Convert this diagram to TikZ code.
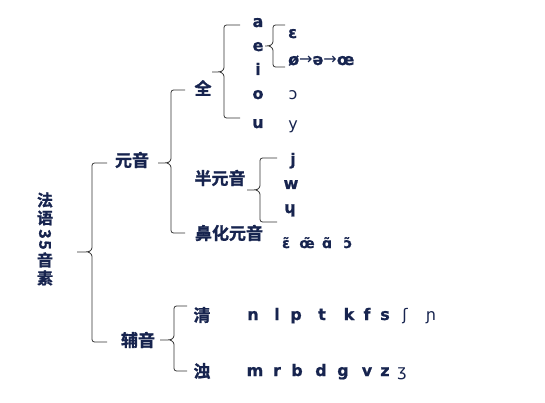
\documentclass[tikz,border=0pt]{standalone}
\usepackage{fontspec}
\usepackage{graphicx}
\newfontfamily\cjk{Noto Sans CJK SC}[BoldFont={* Bold}, BoldFeatures={FakeBold=1.2}]
\newfontfamily\lat{DejaVu Sans}[BoldFeatures={FakeBold=1}]
\definecolor{ink}{HTML}{17244F}
\definecolor{brk}{HTML}{333333}
\tikzset{
  zh/.style={font=\cjk\bfseries\fontsize{17}{18}\selectfont, text=ink, inner sep=0pt},
  tt/.style={font=\cjk\bfseries\fontsize{16}{17}\selectfont, text=ink, inner sep=0pt},
  lt/.style={font=\lat\bfseries\fontsize{16}{17}\selectfont, text=ink, inner sep=0pt, anchor=base},
  ltr/.style={font=\lat\fontsize{16}{17}\selectfont, text=ink, inner sep=0pt, anchor=base},
  nas/.style={font=\lat\bfseries\fontsize{14}{15}\selectfont, text=ink, inner sep=0pt, anchor=base},
  brace/.style={draw=brk, line width=0.8pt, rounded corners=2.5pt}
}
% \bracketdraw{x}{ytop}{ybot}{ynub}{xleft}{xright}
\newcommand\bracketdraw[6]{%
  \draw[brace] (#6,#2) -- (#1,#2) -- (#1,#4-2) -- (#1-4,#4) -- (#5,#4);
  \draw[brace] (#6,#3) -- (#1,#3) -- (#1,#4+2) -- (#1-4,#4);
}
\begin{document}
\begin{tikzpicture}[x=1pt,y=-1pt]
\useasboundingbox[fill=white] (0,0) rectangle (545,403);
% title (vertical)
\node[tt] (t1) at (45,200) {法};
\node[tt] (t2) at (45,218) {语};
\node[tt] (t3) at (45,234) {\rotatebox{-90}{3}};
\node[tt] (t4) at (45,245) {\rotatebox{-90}{5}};
\node[tt] (t5) at (45,260) {音};
\node[tt] (t6) at (45,278) {素};
% level 1
\node[zh] (yy) at (132,160) {元音};
\node[zh] (fy) at (138,340) {辅音};
% level 2
\node[zh] (quan) at (203,88) {全};
\node[zh] (ban) at (220,178) {半元音};
\node[zh] (bi) at (229,233) {鼻化元音};
\node[zh] (qing) at (202,315) {清};
\node[zh] (zhuo) at (202,371) {浊};
% vowels
\node[lt] (va) at (258,27) {a};
\node[lt] (ve) at (258,51) {e};
\node[lt] (vi) at (258,75) {i};
\node[lt] (vo) at (258,99) {o};
\node[lt] (vu) at (258,128) {u};
\node[lt, anchor=base west] (eps) at (288,38) {ɛ};
\node[lt, anchor=base west] (oe) at (288,65) {ø{\fontseries{m}\selectfont→}ə{\fontseries{m}\selectfont→}œ};
\node[ltr] (oo) at (293,100) {ɔ};
\node[ltr] (yv) at (293,130) {y};
% semi vowels
\node[lt] (j) at (293,165) {j};
\node[lt] (w) at (291,189) {w};
\node[lt] (h) at (290,213) {ɥ};
% nasal
\node[nas] (n1) at (286,248) {ɛ̃};
\node[nas] (n2) at (307,248) {œ̃};
\node[nas] (n3) at (327,248) {ɑ̃};
\node[nas] (n4) at (348,248) {ɔ̃};
% consonants
\foreach \c/\x/\s [count=\i] in {n/253/lt,l/277/lt,p/296/lt,t/322/lt,k/349/lt,f/367/lt,s/385/lt,ʃ/405/ltr,ɲ/431/ltr}
  \node[\s] (c\i) at (\x,320) {\c};
\foreach \c/\x/\s [count=\i] in {m/255/lt,r/277/lt,b/297/lt,d/321/lt,g/343/lt,v/367/lt,z/385/lt,ʒ/402/ltr}
  \node[\s] (d\i) at (\x,376) {\c};
% brackets
\bracketdraw{92}{163}{342}{252}{77}{107}
\bracketdraw{171}{90}{233}{163}{158}{185}
\bracketdraw{224}{25}{118}{72}{212}{240}
\bracketdraw{273}{25}{67}{46}{265}{285}
\bracketdraw{260}{158}{222}{190}{247}{277}
\bracketdraw{174}{306}{371}{340}{160}{187}
\end{tikzpicture}
\end{document}
